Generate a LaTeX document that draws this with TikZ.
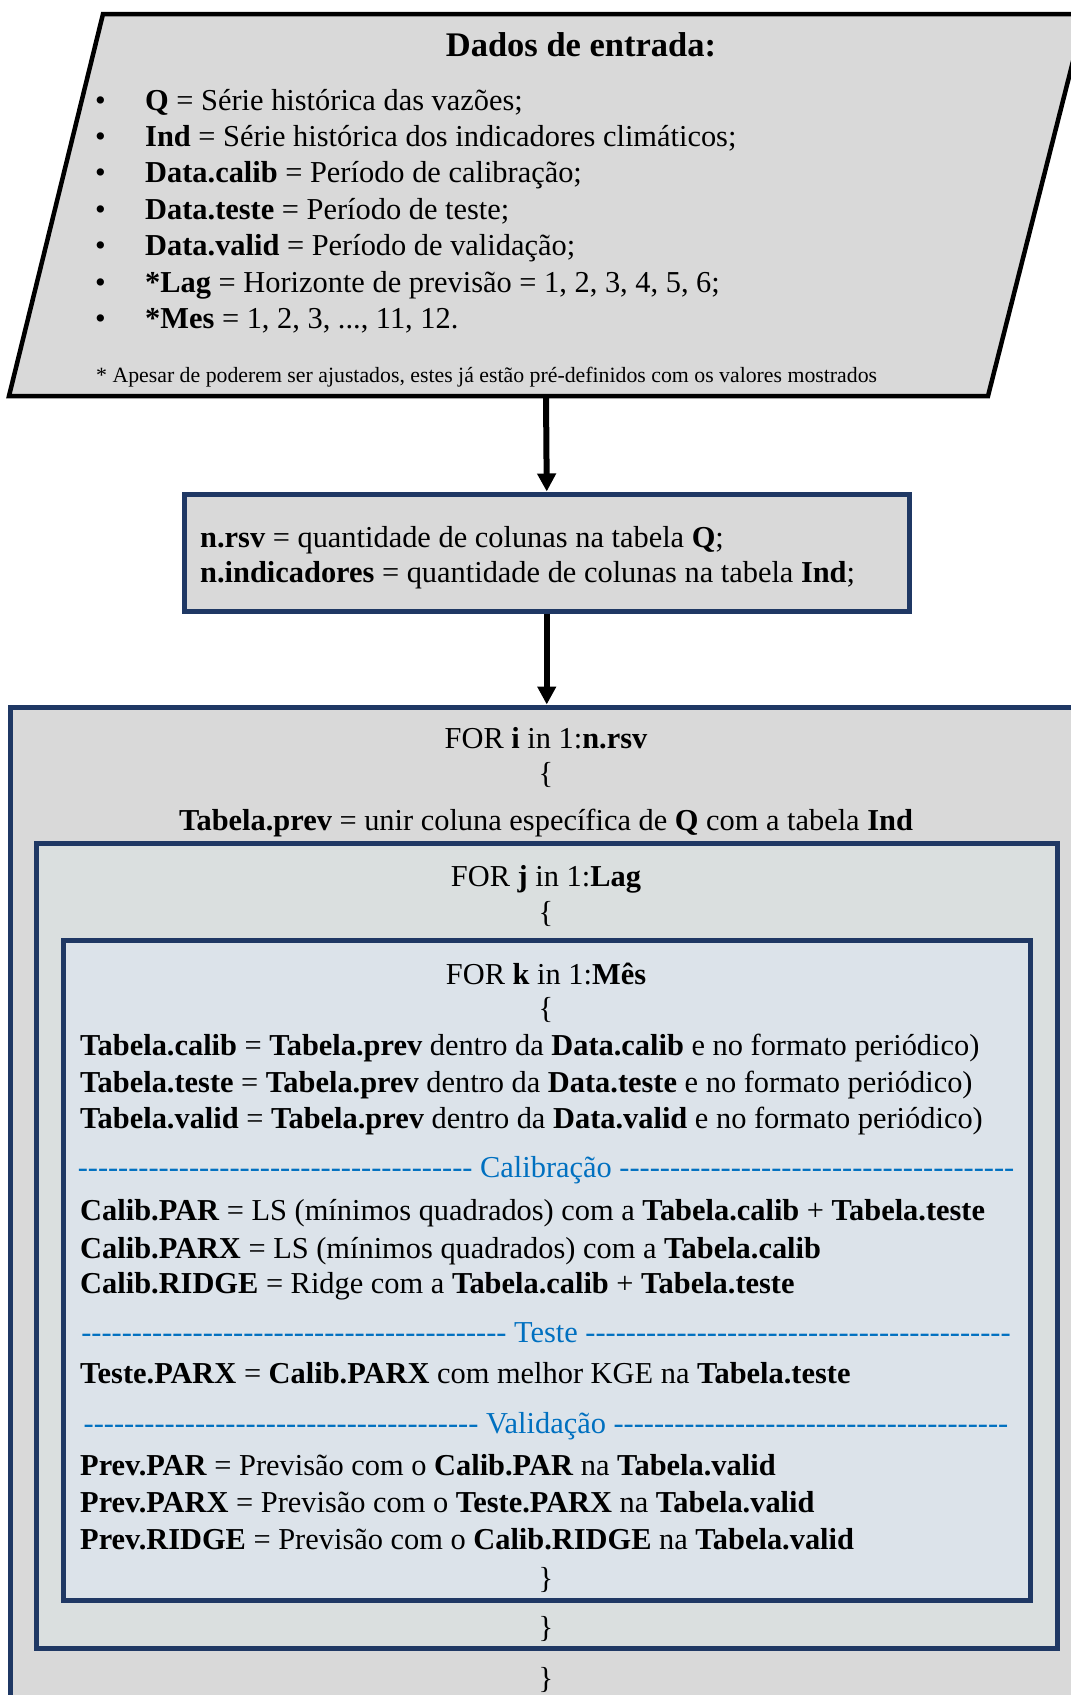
\documentclass[tikz,border=0pt]{standalone}
\usepackage{fontspec}
\setmainfont{Liberation Serif}
\usetikzlibrary{arrows.meta}
\definecolor{navy}{HTML}{1F3864}
\definecolor{cinza}{HTML}{D9D9D9}
\definecolor{cinzaazul}{HTML}{DADFDF}
\definecolor{azulclaro}{HTML}{DCE3EA}
\definecolor{azultxt}{HTML}{0070C0}
\tikzstyle{entrada} = [draw=black, line width=4.5pt, fill=cinza]
\tikzstyle{caixa} = [rectangle, draw=navy, line width=5pt, inner sep=0pt]
\tikzstyle{linha} = [anchor=base west, inner sep=0pt, font=\fontsize{30.4}{36}\selectfont]
\tikzstyle{centro} = [anchor=base, inner sep=0pt, font=\fontsize{30.4}{36}\selectfont]
\tikzstyle{secao} = [centro, text=azultxt]
\tikzstyle{seta} = [->, line width=6pt]
\newcommand{\tracos}[1]{\foreach \ii in {1,...,#1}{-\kern0pt}}

\begin{document}
\begin{tikzpicture}[x=1pt, y=-1pt, >={Triangle[width=18pt,length=18pt]}]
   \useasboundingbox (0,0) rectangle (1071,1695);

   % dados de entrada
   \draw[entrada] (103,14) -- (1085,14) -- (988,396) -- (9,396) -- cycle;
   \coordinate (dados) at (546,396);
   \node[centro, font=\fontsize{34.5}{40}\selectfont\bfseries] (titulo) at (581,56) {Dados de entrada:};
   \foreach \i in {0,...,6}
      \node[linha] (b\i) at (95,110+36.4*\i) {\textbullet};
   \node[linha] (q)      at (145,110)   {\textbf{Q} = Série histórica das vazões;};
   \node[linha] (ind)    at (145,146.4) {\textbf{Ind} = Série histórica dos indicadores climáticos;};
   \node[linha] (dcalib) at (145,182.8) {\textbf{Data.calib} = Período de calibração;};
   \node[linha] (dteste) at (145,219.2) {\textbf{Data.teste} = Período de teste;};
   \node[linha] (dvalid) at (145,255.6) {\textbf{Data.valid} = Período de validação;};
   \node[linha] (lag)    at (145,292)   {\textbf{*Lag} = Horizonte de previsão = 1, 2, 3, 4, 5, 6;};
   \node[linha] (mes)    at (145,328.4) {\textbf{*Mes} = 1, 2, 3, ..., 11, 12.};
   \node[linha, font=\fontsize{21.8}{26}\selectfont] (nota) at (96,382)
      {* Apesar de poderem ser ajustados, estes já estão pré-definidos com os valores mostrados};

   % quantidades
   \node[caixa, fill=cinza, minimum width=724.5pt, minimum height=117pt] (nbox) at (546.75,552.5) {};
   \node[linha] (nrsv) at (200,547) {\textbf{n.rsv} = quantidade de colunas na tabela \textbf{Q};};
   \node[linha] (nind) at (200,582) {\textbf{n.indicadores} = quantidade de colunas na tabela \textbf{Ind};};

   % lacos
   \node[caixa, fill=cinza, minimum width=1080pt, minimum height=1003pt] (loopi) at (550,1208.5) {};
   \node[caixa, fill=cinzaazul, minimum width=1021pt, minimum height=804.5pt] (loopj) at (546.5,1245.75) {};
   \node[caixa, fill=azulclaro, minimum width=966.5pt, minimum height=660.5pt] (loopk) at (546.75,1270.25) {};

   \node[centro] (fori)   at (546,748) {FOR \textbf{i} in 1:\textbf{n.rsv}};
   \node[centro] (abrei)  at (546,783) {\{};
   \node[centro] (prev)   at (546,830) {\textbf{Tabela.prev} = unir coluna específica de \textbf{Q} com a tabela \textbf{Ind}};
   \node[centro] (forj)   at (546,886) {FOR \textbf{j} in 1:\textbf{Lag}};
   \node[centro] (abrej)  at (546,922) {\{};
   \node[centro] (fork)   at (546,984) {FOR \textbf{k} in 1:\textbf{Mês}};
   \node[centro] (abrek)  at (546,1018) {\{};

   \node[linha] (tcalib) at (80,1055) {\textbf{Tabela.calib} = \textbf{Tabela.prev} dentro da \textbf{Data.calib} e no formato periódico)};
   \node[linha] (tteste) at (80,1092) {\textbf{Tabela.teste} = \textbf{Tabela.prev} dentro da \textbf{Data.teste} e no formato periódico)};
   \node[linha] (tvalid) at (80,1128) {\textbf{Tabela.valid} = \textbf{Tabela.prev} dentro da \textbf{Data.valid} e no formato periódico)};

   \node[secao] (calib) at (546,1177) {\tracos{39} Calibração \tracos{39}};
   \node[linha] (cpar)   at (80,1220) {\textbf{Calib.PAR} = LS (mínimos quadrados) com a \textbf{Tabela.calib} + \textbf{Tabela.teste}};
   \node[linha] (cparx)  at (80,1258) {\textbf{Calib.PARX} = LS (mínimos quadrados) com a \textbf{Tabela.calib}};
   \node[linha] (cridge) at (80,1293) {\textbf{Calib.RIDGE} = Ridge com a \textbf{Tabela.calib} + \textbf{Tabela.teste}};

   \node[secao] (teste) at (546,1342) {\tracos{42} Teste \tracos{42}};
   \node[linha] (tparx)  at (80,1383) {\textbf{Teste.PARX} = \textbf{Calib.PARX} com melhor KGE na \textbf{Tabela.teste}};

   \node[secao] (valid) at (546,1433) {\tracos{39} Validação \tracos{39}};
   \node[linha] (ppar)   at (80,1475) {\textbf{Prev.PAR} = Previsão com o \textbf{Calib.PAR} na \textbf{Tabela.valid}};
   \node[linha] (pparx)  at (80,1512) {\textbf{Prev.PARX} = Previsão com o \textbf{Teste.PARX} na \textbf{Tabela.valid}};
   \node[linha] (pridge) at (80,1549) {\textbf{Prev.RIDGE} = Previsão com o \textbf{Calib.RIDGE} na \textbf{Tabela.valid}};

   \node[centro] (fechak) at (546,1588) {\}};
   \node[centro] (fechaj) at (546,1637) {\}};
   \node[centro] (fechai) at (546,1688) {\}};

   % setas
   \draw[seta] (dados) -- (nbox.north);
   \draw[seta] (nbox.south) -- (nbox.south |- loopi.north);
\end{tikzpicture}
\end{document}
